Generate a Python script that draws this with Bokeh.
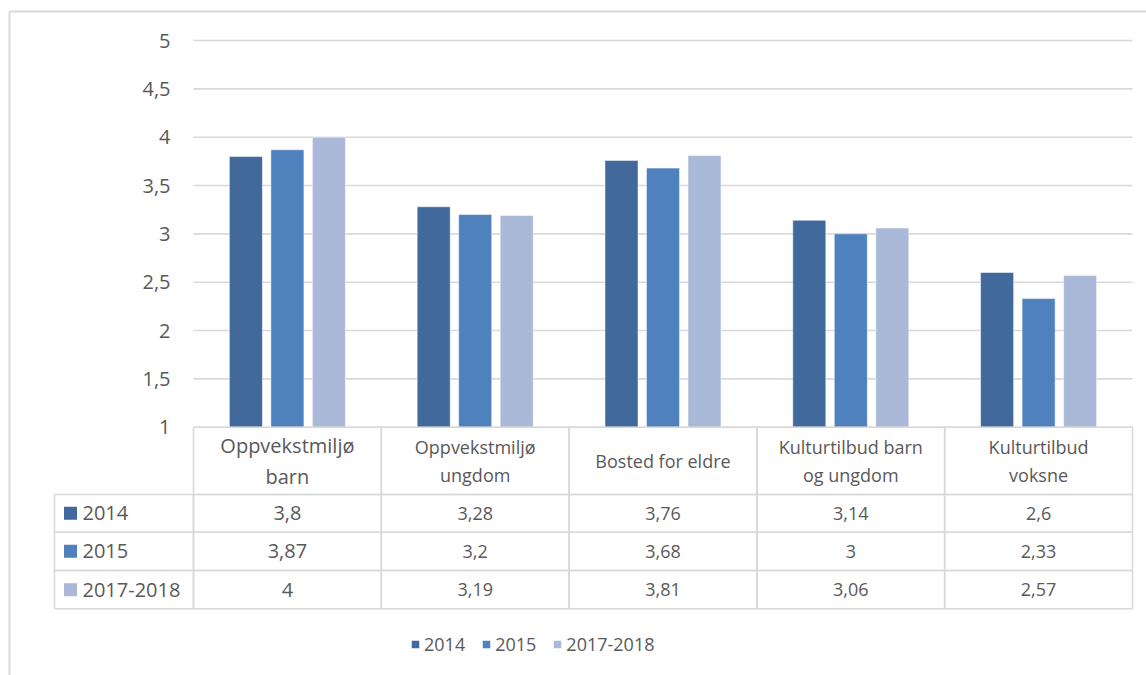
from bokeh.plotting import figure
from bokeh.models import Range1d, ColumnDataSource, Legend, LegendItem
from bokeh.core.properties import value
from bokeh.embed import file_html
from bokeh.resources import INLINE

# ---------------- data ----------------
categories = ["Oppvekstmiljø barn", "Oppvekstmiljø ungdom", "Bosted for eldre",
              "Kulturtilbud barn og ungdom", "Kulturtilbud voksne"]
header_labels = ["Oppvekstmiljø\nbarn", "Oppvekstmiljø\nungdom", "Bosted for eldre",
                 "Kulturtilbud barn\nog ungdom", "Kulturtilbud\nvoksne"]
series_names = ["2014", "2015", "2017-2018"]
values_2014 = [3.8, 3.28, 3.76, 3.14, 2.6]
values_2015 = [3.87, 3.2, 3.68, 3.0, 2.33]
values_2017_2018 = [4.0, 3.19, 3.81, 3.06, 2.57]
y_ticks = [1, 1.5, 2, 2.5, 3, 3.5, 4, 4.5, 5]

# ---------------- styles / layout ----------------
colors = ["#41699C", "#4F81BD", "#AAB9D7"]
TEXT = "#595959"
GRID = "#D9D9D9"
FONT = "Open Sans"

W, H = 1146, 675
PLOT_L, PLOT_R = 193.0, 1132.0      # plot area, page px
Y5_PX, Y1_PX = 40.0, 426.7           # page y of value 5 and value 1
COLW = (PLOT_R - PLOT_L) / len(categories)
PX_PER_UNIT = (Y1_PX - Y5_PX) / 4.0

HEAD_TOP, HEAD_BOT = Y1_PX, 494.0
ROW_EDGES = [494.0, 531.7, 570.0, 608.3]
LABEL_L = 54.0

def cy(py):  # value on the "cy" range (pixels up from the canvas bottom)
    return H - py

p = figure(width=W, height=H, output_backend="svg", toolbar_location=None,
           x_range=Range1d(-PLOT_L / COLW, (W - PLOT_L) / COLW),
           y_range=Range1d(1 - (H - Y1_PX) / PX_PER_UNIT, 5 + Y5_PX / PX_PER_UNIT),
           x_axis_location=None, y_axis_location=None,
           min_border_left=0, min_border_right=0, min_border_top=0, min_border_bottom=0)
p.extra_x_ranges = {"px": Range1d(0, W)}
p.extra_y_ranges = {"cy": Range1d(0, H)}
p.outline_line_color = None
p.xgrid.visible = False
p.ygrid.visible = False
p.background_fill_color = "white"
p.border_fill_color = "white"

n_cat = len(categories)
col_left = [float(i) for i in range(n_cat)]
col_center = [i + 0.5 for i in range(n_cat)]

# ---------------- value axis (gridlines + tick labels) ----------------
p.segment(x0=[0.0] * len(y_ticks), x1=[float(n_cat)] * len(y_ticks), y0=y_ticks, y1=y_ticks,
          line_color=GRID, line_width=1.6)
p.text(x=[170.0] * len(y_ticks), y=y_ticks, x_range_name="px",
       text=[f"{t:g}".replace(".", ",") for t in y_ticks],
       text_font=value(FONT), text_font_size="20px", text_color=TEXT,
       text_align="right", text_baseline="middle")

# ---------------- bars ----------------
src = ColumnDataSource(dict(x=col_center, s0=values_2014, s1=values_2015, s2=values_2017_2018))
offsets = [-0.221, 0.0, 0.221]
renderers = []
for i, key in enumerate(["s0", "s1", "s2"]):
    r = p.vbar(x=[c + offsets[i] for c in col_center], top=src.data[key], bottom=1, width=0.176,
               fill_color=colors[i], line_color="white", line_alpha=0.5, line_width=1)
    renderers.append(r)

# ---------------- data table ----------------
col_sizes = ["20px"] + ["18px"] * (n_cat - 1)
edges = [HEAD_TOP] + ROW_EDGES
ql, qr, qt, qb = [], [], [], []
for i in range(n_cat):
    for k in range(len(edges) - 1):
        ql.append(col_left[i]); qr.append(col_left[i] + 1)
        qt.append(cy(edges[k])); qb.append(cy(edges[k + 1]))
p.quad(left=ql, right=qr, top=qt, bottom=qb, y_range_name="cy",
       fill_color=None, line_color=GRID, line_width=1.6)

# header texts
hsrc = ColumnDataSource(dict(x=col_center, y=[cy((HEAD_TOP + HEAD_BOT) / 2)] * n_cat,
                             t=header_labels, s=col_sizes))
p.text(x="x", y="y", text="t", source=hsrc, y_range_name="cy", text_font=value(FONT),
       text_font_size="s", text_color=TEXT, text_align="center", text_baseline="middle",
       text_line_height=1.15)

# value texts
all_values = [values_2014, values_2015, values_2017_2018]
vx, vy, vt, vs = [], [], [], []
for r_i, vals in enumerate(all_values):
    yc = cy((ROW_EDGES[r_i] + ROW_EDGES[r_i + 1]) / 2)
    for c_i, v in enumerate(vals):
        vx.append(col_center[c_i]); vy.append(yc)
        vt.append(f"{v:g}".replace(".", ",")); vs.append(col_sizes[c_i])
vsrc = ColumnDataSource(dict(x=vx, y=vy, t=vt, s=vs))
p.text(x="x", y="y", text="t", source=vsrc, y_range_name="cy", text_font=value(FONT),
       text_font_size="s", text_color=TEXT, text_align="center", text_baseline="middle")

# series label column
n_ser = len(series_names)
mids = [(ROW_EDGES[k] + ROW_EDGES[k + 1]) / 2 for k in range(n_ser)]
p.quad(left=[LABEL_L] * n_ser, right=[PLOT_L] * n_ser,
       top=[cy(ROW_EDGES[k]) for k in range(n_ser)], bottom=[cy(ROW_EDGES[k + 1]) for k in range(n_ser)],
       x_range_name="px", y_range_name="cy", fill_color=None, line_color=GRID, line_width=1.6)
p.quad(left=[63.5] * n_ser, right=[76.5] * n_ser,
       top=[cy(m - 6.5) for m in mids], bottom=[cy(m + 6.5) for m in mids],
       x_range_name="px", y_range_name="cy", fill_color=colors, line_color=None)
p.text(x=[82.0] * n_ser, y=[cy(m) for m in mids], text=series_names,
       x_range_name="px", y_range_name="cy", text_font=value(FONT), text_font_size="20px",
       text_color=TEXT, text_align="left", text_baseline="middle")

# outer chart border (top and left edges visible)
p.segment(x0=[9.0, 9.0], y0=[cy(11), cy(11)], x1=[9.0, float(W)], y1=[cy(H), cy(11)],
          x_range_name="px", y_range_name="cy", line_color=GRID, line_width=2)

# legend
legend = Legend(items=[LegendItem(label=n, renderers=[r]) for n, r in zip(series_names, renderers)],
                location=(410, 19), orientation="horizontal",
                glyph_width=10, glyph_height=10, label_standoff=4, spacing=16,
                padding=0, margin=0, border_line_color=None, background_fill_alpha=0,
                label_text_font=FONT, label_text_font_size="18px", label_text_color=TEXT,
                label_height=20)
p.add_layout(legend)

open("out.html", "w").write(file_html(p, INLINE))
